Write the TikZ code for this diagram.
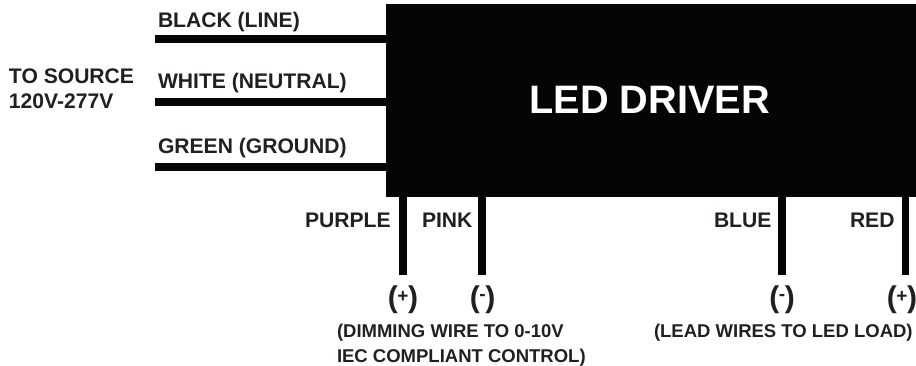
\documentclass[tikz,border=0pt]{standalone}
\usepackage{fontspec}
\setmainfont{Liberation Sans}
\definecolor{ink}{HTML}{231F20}
\definecolor{boxk}{HTML}{050505}
\newcommand{\polmark}[2]{{\fontsize{30}{32}\selectfont(}\kern-0.4pt\raisebox{#2}{\fontsize{19}{21}\selectfont #1}\kern-0.4pt{\fontsize{30}{32}\selectfont)}}
\begin{document}
\begin{tikzpicture}[x=1pt,y=-1pt,
  wire/.style={draw=boxk,line width=7.2pt},
  lab/.style={anchor=base west,inner sep=0pt,outer sep=0pt,text=ink,font=\bfseries\fontsize{21.1}{24}\selectfont},
  smalllab/.style={anchor=base west,inner sep=0pt,outer sep=0pt,text=ink,font=\bfseries\fontsize{18.5}{21}\selectfont},
  pol/.style={anchor=base,inner sep=0pt,outer sep=0pt,text=ink,font=\bfseries}]
\useasboundingbox (0,0) rectangle (916,366);
\node[fill=boxk,inner sep=0pt,outer sep=0pt,minimum width=530pt,minimum height=193pt,anchor=north west] (driver) at (386,4) {};
\node[anchor=base,inner sep=0pt,text=white,font=\bfseries\fontsize{39.7}{44}\selectfont] (title) at (649.5,113.5) {LED DRIVER};
\coordinate (a1) at (155,39);
\coordinate (a2) at (155,102);
\coordinate (a3) at (155,167);
\coordinate (b1) at (403,275);
\coordinate (b2) at (482,275);
\coordinate (b3) at (782,275);
\coordinate (b4) at (905.5,275);
\draw[wire] (a1) -- (a1 -| driver.west);
\draw[wire] (a2) -- (a2 -| driver.west);
\draw[wire] (a3) -- (a3 -| driver.west);
\draw[wire] (b1) -- (b1 |- driver.south);
\draw[wire] (b2) -- (b2 |- driver.south);
\draw[wire] (b3) -- (b3 |- driver.south);
\draw[wire] (b4) -- (b4 |- driver.south);
\node[lab] (l1) at (158,27.5) {BLACK (LINE)};
\node[lab] (l2) at (158,88.5) {WHITE (NEUTRAL)};
\node[lab] (l3) at (158,153.5) {GREEN (GROUND)};
\node[lab] (s1) at (9,83.5) {TO SOURCE};
\node[lab] (s2) at (9,108.5) {120V-277V};
\node[lab] (c1) at (305,227.5) {PURPLE};
\node[lab] (c2) at (422,227.5) {PINK};
\node[lab] (c3) at (714,227.5) {BLUE};
\node[lab] (c4) at (850,227.5) {RED};
\node[pol] (p1) at (403,307) {\polmark{+}{5pt}};
\node[pol] (p2) at (482.5,307) {\polmark{-}{6pt}};
\node[pol] (p3) at (782,307) {\polmark{-}{6pt}};
\node[pol] (p4) at (902,307) {\polmark{+}{5pt}};
\node[smalllab] (n1) at (337,337.5) {(DIMMING WIRE TO 0-10V};
\node[smalllab] (n2) at (337,362.5) {IEC COMPLIANT CONTROL)};
\node[smalllab] (n3) at (654,337.5) {(LEAD WIRES TO LED LOAD)};
\end{tikzpicture}
\end{document}
